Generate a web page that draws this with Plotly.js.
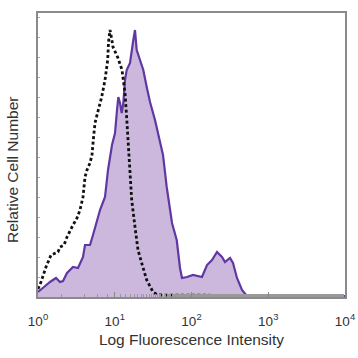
<!DOCTYPE html>
<html>
<head>
<meta charset="utf-8">
<script src="https://cdn.plot.ly/plotly-3.0.1.min.js"></script>
<style>html,body{margin:0;padding:0;background:#fff;}#chart{width:358px;height:358px;}</style>
</head>
<body>
<div id="chart"></div>
<script>
// Stained sample (filled purple histogram)
const stainedX = [1.0, 1.03, 1.094, 1.197, 1.433, 1.716, 1.935, 2.117, 2.387, 2.858, 3.32, 3.858, 4.098, 4.759, 5.207, 6.426, 7.464, 8.169, 9.209, 10.08, 10.7, 11.13, 11.71, 12.32, 12.93, 13.6, 14.31, 15.8, 17.45, 18.36, 19.32, 21.33, 23.55, 26.09, 28.8, 33.45, 38.87, 42.54, 47.53, 52.49, 55.72, 64.17, 70.84, 75.18, 87.37, 104.6, 121.5, 137, 159.2, 185, 214.9, 249.7, 273.3, 317.5, 347.3, 391.5, 455, 528.5, 10000];
const stainedY = [5, 6, 7, 10, 15, 19, 15, 16, 24, 30, 29, 40, 52, 52, 62, 87, 100, 127, 152, 164, 187, 200, 194, 184, 194, 217, 227, 234, 257, 267, 247, 237, 227, 210, 195, 177, 157, 142, 110, 90, 74, 57, 29, 19, 20, 22, 21, 20, 32, 37, 45, 40, 35, 39, 34, 19, 7, 1, 1];

// Isotype control (dashed black histogram)
const controlX = [1.0, 1.062, 1.094, 1.271, 1.477, 1.822, 1.935, 2.182, 2.387, 2.773, 3.222, 3.526, 3.858, 4.098, 4.349, 4.759, 5.052, 5.254, 5.529, 6.105, 6.761, 7.464, 8.094, 8.292, 8.673, 8.937, 9.489, 11.02, 12.43, 12.93, 13.6, 14.31, 15.02, 15.8, 16.63, 18.36, 20.09, 22.44, 26.09, 31.51, 36.61, 10000];
const controlY = [8, 12, 15, 30, 42, 45, 50, 52, 60, 70, 79, 87, 100, 120, 127, 134, 142, 157, 174, 187, 200, 217, 237, 255, 267, 262, 250, 239, 227, 217, 204, 179, 152, 127, 97, 70, 47, 34, 17, 5, 2, 1];

const xTickVals = [1, 10, 100, 1000, 10000];
const xTickText = ['10<sup>0</sup>', '10<sup>1</sup>', '10<sup>2</sup>', '10<sup>3</sup>', '10<sup>4</sup>'];

const font = 'Liberation Sans, Arial, sans-serif';

const traces = [
  {
    x: stainedX, y: stainedY, type: 'scatter', mode: 'lines',
    fill: 'tozeroy', fillcolor: 'rgb(204,184,221)',
    line: {color: 'rgb(96,56,162)', width: 2.2},
    hoverinfo: 'skip'
  },
  {
    x: controlX, y: controlY, type: 'scatter', mode: 'lines',
    line: {color: '#111', width: 2.8, dash: '3px,2.5px'},
    hoverinfo: 'skip'
  }
];

const layout = {
  width: 358, height: 358,
  margin: {l: 38, r: 13, t: 13, b: 61},
  paper_bgcolor: '#fff', plot_bgcolor: '#fff',
  showlegend: false,
  font: {family: font, color: '#333'},
  xaxis: {
    type: 'log', range: [0, 4],
    tickvals: xTickVals, ticktext: xTickText,
    ticks: 'inside', ticklen: 5, tickcolor: '#888', tickwidth: 1,
    minor: {ticks: 'inside', ticklen: 3, tickcolor: '#999', showgrid: false},
    showgrid: false, zeroline: false,
    showline: true, linecolor: '#8a8a8a', linewidth: 1.6, mirror: true,
    tickfont: {size: 13.5, color: '#333', family: font},
    ticklabelstandoff: 11,
    title: {text: 'Log Fluorescence Intensity', font: {size: 15.5, color: '#333', family: font}, standoff: 6},
    fixedrange: true
  },
  yaxis: {
    range: [0, 284], dtick: 20,
    ticks: 'inside', ticklen: 2, tickcolor: '#aaa',
    showticklabels: false,
    showgrid: false, zeroline: false,
    showline: true, linecolor: '#8a8a8a', linewidth: 1.6, mirror: true,
    fixedrange: true
  },
  annotations: [{
    text: 'Relative Cell Number', xref: 'paper', yref: 'paper',
    x: -0.085, y: 0.447, xanchor: 'center', yanchor: 'middle',
    textangle: -90, showarrow: false,
    font: {size: 15.5, color: '#333', family: font}
  }]
};

Plotly.newPlot('chart', traces, layout, {displayModeBar: false, staticPlot: true});
</script>
</body>
</html>
